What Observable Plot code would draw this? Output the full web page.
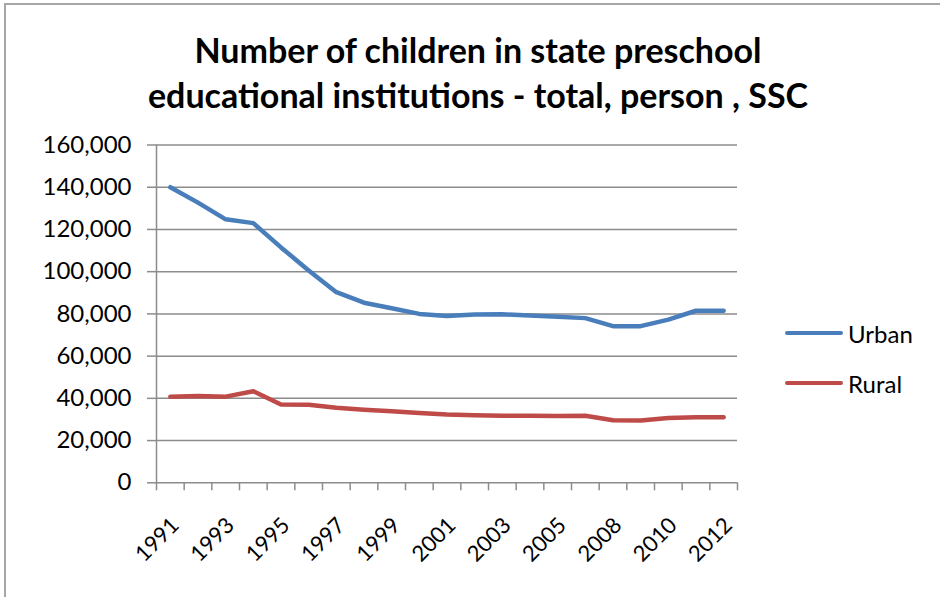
<!DOCTYPE html>
<html><head><meta charset="utf-8">
<script src="https://cdn.jsdelivr.net/npm/d3@7"></script>
<script src="https://cdn.jsdelivr.net/npm/@observablehq/plot@0.6"></script>
<style>
body{margin:0;background:#fff;}
#wrap{position:relative;width:940px;height:597px;overflow:hidden;font-family:Lato,sans-serif;color:#000;}
#frame{position:absolute;left:4px;top:3px;width:1000px;height:1000px;border-left:2px solid #a6a6a6;border-top:2px solid #a6a6a6;}
#title{position:absolute;left:0;top:27px;width:956px;text-align:center;font-weight:bold;font-size:34px;line-height:45px;}
#chart{position:absolute;left:0;top:130px;}
.leg{position:absolute;left:785px;font-size:24px;display:flex;align-items:center;height:30px;}
.leg .sw{display:inline-block;width:58px;height:4px;border-radius:2px;margin-right:5px;}
</style></head>
<body>
<div id="wrap">
  <div id="frame"></div>
  <div id="title">Number of children in state preschool<br>educational institutions - total, person , SSC</div>
  <div id="chart"></div>
  <div class="leg" style="top:318px"><span class="sw" style="background:#4a7ebb"></span>Urban</div>
  <div class="leg" style="top:368px"><span class="sw" style="background:#be4b48"></span>Rural</div>
</div>
<script>
const years = ["1991","1992","1993","1994","1995","1996","1997","1998","1999","2000","2001","2002","2003","2004","2005","2007","2008","2009","2010","2011","2012"];
const urban = [140000,132700,124800,123000,111500,100600,90300,85300,82700,80000,79000,79700,79800,79200,78700,78000,74200,74200,77300,81500,81500];
const rural = [40800,41100,40800,43400,37100,37000,35500,34600,33900,33100,32300,32000,31800,31800,31600,31800,29600,29500,30700,31000,31100];
const yTicks = [0,20000,40000,60000,80000,100000,120000,140000,160000];
const labelYears = years.filter((d, i) => i % 2 === 0);

const n = years.length;
const rows = years.flatMap((y, i) => [
  {pos: i + 0.5, value: urban[i], series: "Urban"},
  {pos: i + 0.5, value: rural[i], series: "Rural"}
]);
const grid = "#8c8c8c";

const chart = Plot.plot({
  width: 940,
  height: 467,
  marginLeft: 156,
  marginRight: 203,
  marginTop: 14.5,
  marginBottom: 114.7,
  style: {fontFamily: "Lato, sans-serif", background: "transparent", color: "#000"},
  x: {type: "linear", domain: [0, n]},
  y: {domain: [0, 160000]},
  marks: [
    Plot.ruleY(yTicks, {x1: 0, x2: n, stroke: grid, strokeWidth: 1.5}),
    Plot.ruleX([0], {stroke: grid, strokeWidth: 1.5}),
    Plot.axisY({ticks: yTicks, tickSize: 9, tickPadding: 16, stroke: grid, strokeWidth: 1.5, tickFormat: d3.format(","), fontSize: 24, fill: "#000", label: null}),
    Plot.axisX({ticks: d3.range(n + 1), tickSize: 8, stroke: grid, strokeWidth: 1.5, tickFormat: () => "", label: null}),
    Plot.axisX({ticks: labelYears.map(y => years.indexOf(y) + 0.5), tickSize: 0, tickPadding: 39, dx: 5, tickRotate: -45,
      tickFormat: p => years[Math.floor(p)], fontSize: 22, fill: "#000", label: null}),
    Plot.line(rows, {x: "pos", y: "value", z: "series",
      stroke: d => d.series === "Urban" ? "#4a7ebb" : "#be4b48",
      strokeWidth: 4.5, strokeLinejoin: "round", strokeLinecap: "round"})
  ]
});
document.getElementById("chart").appendChild(chart);
</script>
</body></html>
